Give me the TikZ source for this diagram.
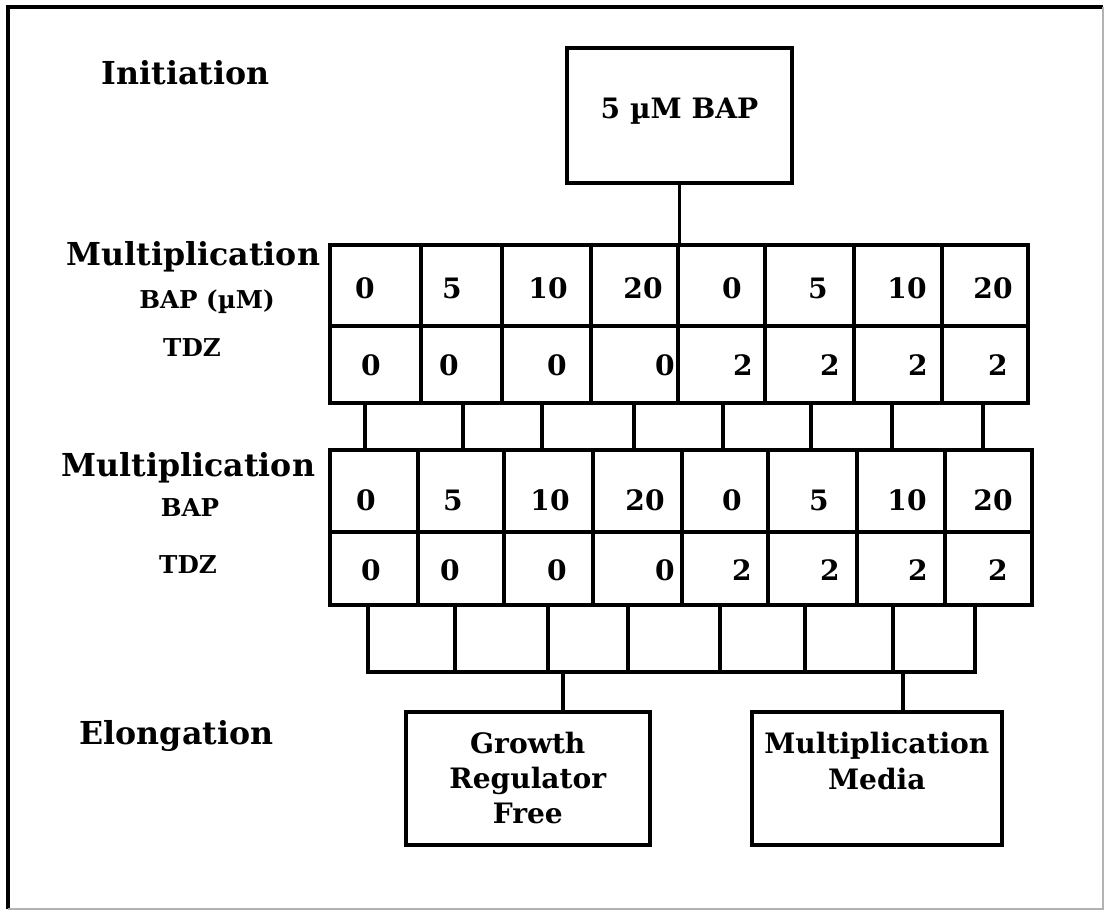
\documentclass[tikz,border=0pt]{standalone}
\usepackage{fontspec}
\setmainfont{DejaVu Serif}
\usetikzlibrary{positioning}

\newcommand{\stagefont}{\bfseries\fontsize{18}{21}\selectfont}
\newcommand{\cellfont}{\bfseries\fontsize{16}{20}\selectfont}
\newcommand{\factorfont}{\bfseries\fontsize{14}{18}\selectfont}

\begin{document}
\begin{tikzpicture}[x=0.02cm, y=-0.02cm, line width=2pt, font=\cellfont,
  stage/.style={anchor=base west, font=\stagefont, inner sep=0pt},
  factor/.style={font=\factorfont, inner sep=0pt},
  cell/.style={draw, rectangle, inner sep=0pt, minimum height=#1},
  box/.style={draw, rectangle, align=center, inner sep=0pt, line width=2.1pt},
  val/.style={inner sep=0pt}]
\useasboundingbox (0,0) rectangle (1107,912);
% frame of the figure
\draw[line width=2.4pt] (8,909) -- (8,7) -- (1103,7);
\draw[line width=0.6pt, black!30] (1103,7) -- (1103,909) -- (8,909);

% stage names
\node[stage] (ini) at (100,85) {Initiation};
\node[stage] (mulA) at (65,266) {Multiplication};
\node[factor] (bapA) at (207,302) {BAP (µM)};
\node[factor] (tdzA) at (192,348) {TDZ};
\node[stage] (mulB) at (60,477) {Multiplication};
\node[factor] (bapB) at (190,508) {BAP};
\node[factor] (tdzB) at (188,565) {TDZ};
\node[stage] (elo) at (78,745) {Elongation};

% initiation medium
\node[box, minimum width=4.5cm, minimum height=2.7cm] (inibox) at (679.5,115.5) {5 µM BAP\\[-12pt]};

% first multiplication table
\foreach \i/\l/\r in {1/330/421,2/421/502,3/502/591,4/591/678,5/678/765,6/765/854,7/854/942,8/942/1028} {
  \node[cell=1.62cm, minimum width={(\r-\l)*0.02cm}] (mA\i) at ({(\l+\r)/2},285.5) {};
  \node[cell=1.54cm, minimum width={(\r-\l)*0.02cm}] (tA\i) at ({(\l+\r)/2},364.5) {};
}
\foreach \i/\x/\v in {1/365/0,2/452/5,3/548/10,4/643/20,5/732/0,6/818/5,7/907/10,8/993/20}
  \node[val] (vmA\i) at (\x,288) {\v};
\foreach \i/\x/\v in {1/371/0,2/449/0,3/557/0,4/665/0,5/743/2,6/830/2,7/918/2,8/998/2}
  \node[val] (vtA\i) at (\x,365) {\v};

% second multiplication table
\foreach \i/\l/\r in {1/330/418,2/418/504,3/504/593,4/593/682,5/682/768,6/768/857,7/857/945,8/945/1032} {
  \node[cell=1.64cm, minimum width={(\r-\l)*0.02cm}] (mB\i) at ({(\l+\r)/2},491) {};
  \node[cell=1.46cm, minimum width={(\r-\l)*0.02cm}] (tB\i) at ({(\l+\r)/2},568.5) {};
}
\foreach \i/\x/\v in {1/366/0,2/453/5,3/550/10,4/645/20,5/732/0,6/819/5,7/907/10,8/993/20}
  \node[val] (vmB\i) at (\x,500) {\v};
\foreach \i/\x/\v in {1/371/0,2/450/0,3/557/0,4/665/0,5/742/2,6/830/2,7/918/2,8/998/2}
  \node[val] (vtB\i) at (\x,570) {\v};

% elongation media
\node[box, minimum width=4.88cm, minimum height=2.66cm, anchor=north west] (grf) at (404,710) {Growth\\Regulator\\Free};
\node[box, minimum width=5cm, minimum height=2.66cm, anchor=north west] (mm) at (750,710) {Multiplication\\Media\\\phantom{M}};

% connectors
\draw (inibox.south) -- (inibox.south |- mA5.north);
\foreach \i/\x in {1/365,2/463,3/542,4/634,5/723,6/811,7/892,8/983} {
  \coordinate (ja\i) at (\x,0);
  \draw (tA1.south -| ja\i) -- (mB1.north -| ja\i);
}
\foreach \i/\x in {1/368,2/455,3/548,4/628,5/720,6/805,7/893,8/975}
  \coordinate (jb\i) at (\x,0);
\coordinate (bus) at (0,672);
\draw (tB1.south -| jb1) |- (bus -| jb8) -- (tB1.south -| jb8);
\foreach \i in {2,...,7} \draw (tB1.south -| jb\i) -- (bus -| jb\i);
\coordinate (dg) at (563,0);
\coordinate (dm) at (903,0);
\draw (bus -| dg) -- (grf.north -| dg);
\draw (bus -| dm) -- (mm.north -| dm);
\end{tikzpicture}
\end{document}
